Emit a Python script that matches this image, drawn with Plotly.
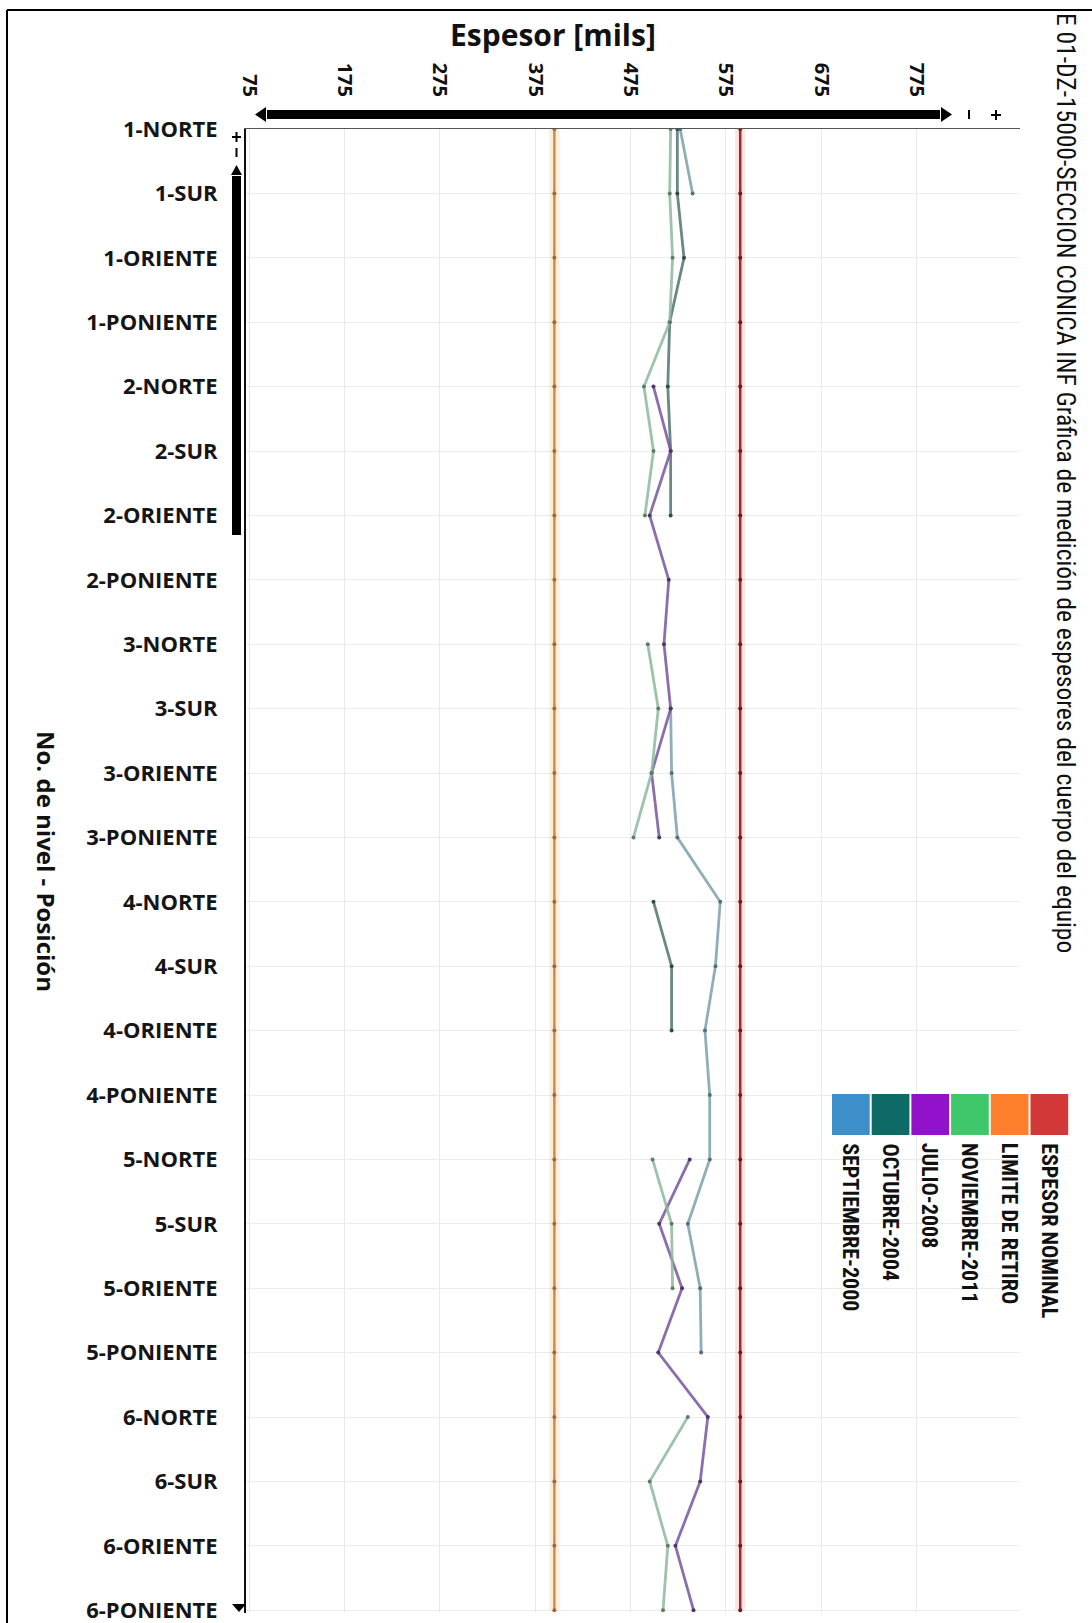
import plotly.graph_objects as go

# ---------------------------------------------------------------- data
categories = [
    "1-NORTE", "1-SUR", "1-ORIENTE", "1-PONIENTE",
    "2-NORTE", "2-SUR", "2-ORIENTE", "2-PONIENTE",
    "3-NORTE", "3-SUR", "3-ORIENTE", "3-PONIENTE",
    "4-NORTE", "4-SUR", "4-ORIENTE", "4-PONIENTE",
    "5-NORTE", "5-SUR", "5-ORIENTE", "5-PONIENTE",
    "6-NORTE", "6-SUR", "6-ORIENTE", "6-PONIENTE",
]

septiembre_2000 = [527, 540, None, None, None, None, None, None, None, 517, 518, 524,
                   569, 564, 553, 558, 558, 535, 548, 549, None, None, None, None]
octubre_2004 = [524, 524, 531, 516, 514, 517, 517, None, None, None, None, None,
                499, 518, 518, None, None, None, None, None, None, None, None, None]
julio_2008 = [None, None, None, None, 499, 517, 495, 515, 510, 517, 497, 505,
              None, None, None, None, 537, 505, 529, 504, 556, 548, 522, 541]
noviembre_2011 = [517, 516, 519, 516, 489, 499, 490, None, 493, 504, 497, 478,
                  None, None, None, None, 498, 518, 519, None, 535, 495, 514, 509]

limite_retiro = 395
espesor_nominal = 590

tick_values = [75, 175, 275, 375, 475, 575, 675, 775]
tick_labels = ["75", "175", "275", "375", "475", "575", "675", "775"]

legend_names = ["SEPTIEMBRE-2000", "OCTUBRE-2004", "JULIO-2008",
                "NOVIEMBRE-2011", "LIMITE DE RETIRO", "ESPESOR NOMINAL"]
legend_colors = ["#3d8fc9", "#0e6a64", "#9212cb", "#3ec86a", "#fd7f2c", "#d23838"]

# muted tones used for the measurement lines inside the plot
line_colors = ["rgba(125,160,172,0.85)", "rgba(80,115,110,0.85)",
               "rgba(120,85,155,0.85)", "rgba(140,185,155,0.85)"]
marker_colors = ["#55707c", "#2f4c4a", "#4d3766", "#5d7d66"]

title_text = ("E 01-DZ-15000-SECCION CONICA INF Gráfica de medición de espesores "
              "del cuerpo del equipo")

# ---------------------------------------------------------------- layout geometry
W, H = 1092, 1623
ML, MR, MT, MB = 246, 72, 129, 10
PW, PH = W - ML - MR, H - MT - MB


def fx(x):
    return (x - ML) / PW


def fy(y):
    return 1 - (y - MT) / PH


BOLD = "Open Sans"
NARROW = "Liberation Sans Narrow, Roboto Condensed, Arial Narrow, sans-serif"

fig = go.Figure()

# reference lines: retirement limit and nominal thickness (with a soft halo)
for val, halo, col, mcol in [
    (limite_retiro, "rgba(255,160,80,0.20)", "#c98f4d", "#9c6a34"),
    (espesor_nominal, "rgba(235,90,90,0.16)", "#9c2c2c", "#6e1a1a"),
]:
    xs = [val] * len(categories)
    fig.add_trace(go.Scatter(x=xs, y=categories, mode="lines",
                             line=dict(color=halo, width=10),
                             hoverinfo="skip", showlegend=False))
    fig.add_trace(go.Scatter(x=xs, y=categories, mode="lines+markers",
                             line=dict(color=col, width=2.5),
                             marker=dict(color=mcol, size=4),
                             showlegend=False))

series = [septiembre_2000, octubre_2004, julio_2008, noviembre_2011]
for name, vals, lc, mc in zip(legend_names[:4], series, line_colors, marker_colors):
    fig.add_trace(go.Scatter(x=vals, y=categories, name=name,
                             mode="lines+markers", connectgaps=False,
                             line=dict(color=lc, width=2.8),
                             marker=dict(color=mc, size=4),
                             showlegend=False))

# ---------------------------------------------------------------- axes
fig.update_xaxes(
    side="top", range=[71.5, 883.5],
    tickmode="array", tickvals=tick_values, ticktext=tick_labels,
    tickangle=90, ticklabelstandoff=24,
    tickfont=dict(family=BOLD, size=20, color="#111111", weight="bold"),
    showgrid=True, gridcolor="#e9e9e9", gridwidth=1,
    showline=True, linecolor="#555555", linewidth=1,
    zeroline=False, ticks="",
)
fig.update_yaxes(
    type="category", categoryorder="array", categoryarray=categories,
    range=[PH / 64.4, 0],
    tickfont=dict(family=BOLD, size=22, color="#151515", weight="bold"),
    ticklabelstandoff=22,
    showgrid=True, gridcolor="#ececec", gridwidth=1,
    showline=True, linecolor="#111111", linewidth=2,
    zeroline=False, ticks="",
)

# ---------------------------------------------------------------- decorations
shapes = []
annotations = []

# outer frame
shapes.append(dict(type="line", xref="paper", yref="paper",
                   x0=fx(7), x1=fx(W), y0=fy(10), y1=fy(10),
                   line=dict(color="black", width=2)))
shapes.append(dict(type="line", xref="paper", yref="paper",
                   x0=fx(7), x1=fx(7), y0=fy(10), y1=fy(H),
                   line=dict(color="black", width=2)))

# horizontal scroll bar above the plot
shapes.append(dict(type="rect", xref="paper", yref="paper",
                   x0=fx(267), x1=fx(940), y0=fy(110), y1=fy(119),
                   fillcolor="black", line=dict(width=0)))
shapes.append(dict(type="path", xref="paper", yref="paper",
                   path=f"M {fx(255)} {fy(114.5)} L {fx(266)} {fy(107)} L {fx(266)} {fy(122)} Z",
                   fillcolor="black", line=dict(width=0)))
shapes.append(dict(type="path", xref="paper", yref="paper",
                   path=f"M {fx(952)} {fy(114.5)} L {fx(941)} {fy(107)} L {fx(941)} {fy(122)} Z",
                   fillcolor="black", line=dict(width=0)))
shapes.append(dict(type="line", xref="paper", yref="paper",
                   x0=fx(969), x1=fx(969), y0=fy(110), y1=fy(119),
                   line=dict(color="black", width=2)))
shapes.append(dict(type="line", xref="paper", yref="paper",
                   x0=fx(991), x1=fx(1001), y0=fy(115), y1=fy(115),
                   line=dict(color="black", width=2)))
shapes.append(dict(type="line", xref="paper", yref="paper",
                   x0=fx(996), x1=fx(996), y0=fy(110), y1=fy(120),
                   line=dict(color="black", width=2)))

# vertical scroll bar next to the category labels
shapes.append(dict(type="rect", xref="paper", yref="paper",
                   x0=fx(232), x1=fx(241), y0=fy(176), y1=fy(535),
                   fillcolor="black", line=dict(width=0)))
shapes.append(dict(type="path", xref="paper", yref="paper",
                   path=f"M {fx(236.5)} {fy(165)} L {fx(231)} {fy(175)} L {fx(242)} {fy(175)} Z",
                   fillcolor="black", line=dict(width=0)))
shapes.append(dict(type="line", xref="paper", yref="paper",
                   x0=fx(236.5), x1=fx(236.5), y0=fy(148), y1=fy(157),
                   line=dict(color="black", width=2)))
shapes.append(dict(type="line", xref="paper", yref="paper",
                   x0=fx(232), x1=fx(241), y0=fy(137), y1=fy(137),
                   line=dict(color="black", width=2)))
shapes.append(dict(type="line", xref="paper", yref="paper",
                   x0=fx(236.5), x1=fx(236.5), y0=fy(132), y1=fy(142),
                   line=dict(color="black", width=2)))
shapes.append(dict(type="path", xref="paper", yref="paper",
                   path=f"M {fx(239)} {fy(1612)} L {fx(232)} {fy(1604)} L {fx(246)} {fy(1604)} Z",
                   fillcolor="black", line=dict(width=0)))

# axis title for the thickness scale
annotations.append(dict(xref="paper", yref="paper", x=fx(553), y=fy(34),
                        text="Espesor [mils]", showarrow=False,
                        xanchor="center", yanchor="middle",
                        font=dict(family=BOLD, size=30, color="#111111", weight="bold")))

# axis title for the categories (reads top to bottom)
annotations.append(dict(xref="paper", yref="paper", x=fx(47), y=fy(861),
                        text="No. de nivel - Posición", textangle=90,
                        showarrow=False, xanchor="center", yanchor="middle",
                        font=dict(family=BOLD, size=24, color="#111111", weight="bold")))

# chart title along the right edge
annotations.append(dict(xref="paper", yref="paper", x=fx(1066), y=fy(11),
                        text=title_text, textangle=90, showarrow=False,
                        xanchor="center", yanchor="top",
                        font=dict(family=NARROW, size=25.5, color="#111111")))

# legend: colour swatches with rotated labels underneath
sw_left, sw_w, sw_top, sw_bot = 831, 39.7, 1094, 1135
for i, (name, col) in enumerate(zip(legend_names, legend_colors)):
    x0 = sw_left + i * sw_w
    shapes.append(dict(type="rect", xref="paper", yref="paper",
                       x0=fx(x0 + 1), x1=fx(x0 + sw_w - 1), y0=fy(sw_top), y1=fy(sw_bot),
                       fillcolor=col, line=dict(width=0)))
    annotations.append(dict(xref="paper", yref="paper", x=fx(x0 + sw_w / 2), y=fy(1141),
                            text=name, textangle=90, showarrow=False,
                            xanchor="center", yanchor="top",
                            font=dict(family=NARROW, size=22, color="#111111",
                                      weight="bold")))

fig.update_layout(
    width=W, height=H,
    margin=dict(l=ML, r=MR, t=MT, b=MB, autoexpand=False),
    paper_bgcolor="white", plot_bgcolor="white",
    shapes=shapes, annotations=annotations,
    showlegend=False,
)

fig.write_html("out.html")
